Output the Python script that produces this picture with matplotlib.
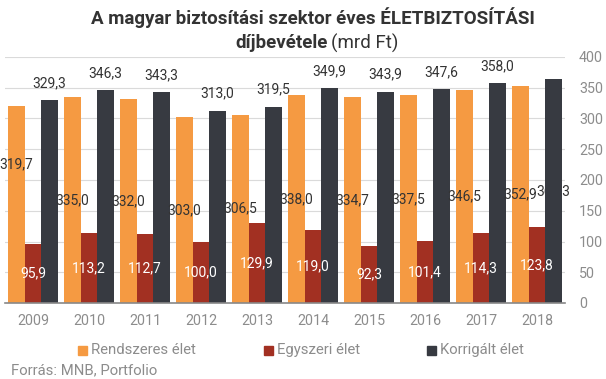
import numpy as np
import matplotlib
matplotlib.use('Agg')
import matplotlib.pyplot as plt
from matplotlib.patches import Rectangle

plt.rcParams['font.family'] = ['Roboto', 'DejaVu Sans']

# data (mrd Ft)
years = ['2009', '2010', '2011', '2012', '2013', '2014', '2015', '2016', '2017', '2018']
rendszeres = [319.7, 335.0, 332.0, 303.0, 306.5, 338.0, 334.7, 337.5, 346.5, 352.9]
egyszeri = [95.9, 113.2, 112.7, 100.0, 129.9, 119.0, 92.3, 101.4, 114.3, 123.8]
korrigalt = [329.3, 346.3, 343.3, 313.0, 319.5, 349.9, 343.9, 347.6, 358.0, 364.3]
series_names = ['Rendszeres élet', 'Egyszeri élet', 'Korrigált élet']

c_orange = '#F59A42'
c_red = '#A23022'
c_dark = '#373A41'
c_gray = '#8C8C8C'
c_text = '#333333'

fig = plt.figure(figsize=(6.06, 3.79), dpi=100)
ax = fig.add_axes([5/606, 1 - 303/379, 560/606, 246/379])

x = np.arange(len(years))
w = 0.295
ax.bar(x - w, rendszeres, w, color=c_orange, zorder=2)
ax.bar(x, egyszeri, w, color=c_red, zorder=2)
ax.bar(x + w, korrigalt, w, color=c_dark, zorder=2)

fmt = lambda v: f'{v:.1f}'.replace('.', ',')
lab_size = 10

# labels: orange in the middle, red in the middle (white), dark on top
for i, v in enumerate(rendszeres):
    ypos = v / 2 if i > 0 else 225
    ax.text(x[i] - w, ypos, fmt(v), ha='center', va='center', fontsize=lab_size, color=c_text, zorder=3)
for i, v in enumerate(egyszeri):
    ax.text(x[i], v / 2, fmt(v), ha='center', va='center', fontsize=lab_size, color='white', zorder=3)
for i, v in enumerate(korrigalt):
    if i == len(korrigalt) - 1:
        ax.text(x[i] + w, v / 2, fmt(v), ha='center', va='center', fontsize=lab_size, color=c_text, zorder=1.5)
    else:
        ax.annotate(fmt(v), (x[i] + w, v), xytext=(0, 10), textcoords='offset pixels',
                    ha='center', va='bottom', fontsize=lab_size, color=c_text, zorder=3)

ax.set_xlim(-0.5, len(years) - 0.5)
ax.set_ylim(0, 400)
ax.set_yticks(np.arange(0, 401, 50))
ax.yaxis.tick_right()
ax.tick_params(axis='y', length=0, labelsize=10.3, labelcolor=c_gray, pad=10)
ax.set_xticks(x)
ax.set_xticklabels(years)
ax.tick_params(axis='x', length=0, labelsize=10.3, labelcolor=c_gray, pad=8)
ax.grid(axis='y', color='#DADADA', linewidth=0.8, zorder=0)
for s in ['top', 'left', 'right']:
    ax.spines[s].set_visible(False)
ax.spines['bottom'].set_color('#888888')
ax.spines['bottom'].set_linewidth(1.2)

# title
fig.text(313/606, 1 - 18/379, 'A magyar biztosítási szektor éves ÉLETBIZTOSÍTÁSI',
         ha='center', va='center', fontsize=13.5, fontweight='bold', color=c_text)
fig.text(328/606, 1 - 43/379, 'díjbevétele', ha='right', va='center',
         fontsize=13.5, fontweight='bold', color=c_text)
fig.text(331/606, 1 - 43/379, '(mrd Ft)', ha='left', va='center',
         fontsize=13.5, color=c_text)

# legend
leg_x = [78, 264, 427]
for lx, name, col in zip(leg_x, series_names, [c_orange, c_red, c_dark]):
    fig.patches.append(Rectangle((lx/606, 1 - 355/379), 9/606, 9/379,
                                 transform=fig.transFigure, color=col))
    fig.text((lx + 13)/606, 1 - 350/379, name, ha='left', va='center',
             fontsize=10.7, color=c_gray)

fig.text(11/606, 1 - 370/379, 'Forrás: MNB, Portfolio', ha='left', va='center',
         fontsize=10.7, color=c_gray)

fig.savefig('out.png', dpi=100)
